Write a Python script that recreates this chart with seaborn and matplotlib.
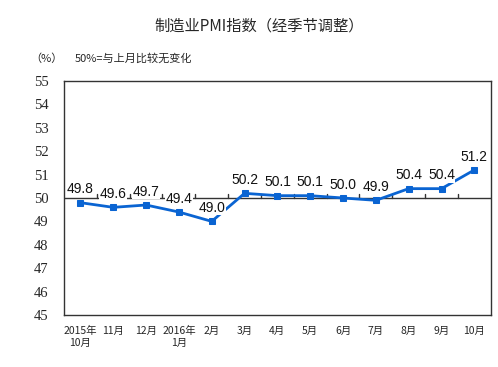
import pandas as pd
import matplotlib
matplotlib.use("Agg")
import matplotlib.pyplot as plt
import seaborn as sns

# PMI values, Oct 2015 - Oct 2016
months = ["2015年\n10月", "11月", "12月", "2016年\n1月", "2月", "3月", "4月",
          "5月", "6月", "7月", "8月", "9月", "10月"]
pmi = [49.8, 49.6, 49.7, 49.4, 49.0, 50.2, 50.1, 50.1, 50.0, 49.9, 50.4, 50.4, 51.2]
yticks = [45, 46, 47, 48, 49, 50, 51, 52, 53, 54, 55]

df = pd.DataFrame({"month": months, "pmi": pmi, "pos": range(len(months))})

sns.set_style("white")
plt.rcParams['font.family'] = ['Noto Sans CJK SC', 'DejaVu Sans']

fig = plt.figure(figsize=(4.98, 3.67), dpi=100)
ax = fig.add_axes([0.1285, 0.142, 0.857, 0.637])

line_color = "#0A64D2"
sns.lineplot(data=df, x="pos", y="pmi", ax=ax, color=line_color, linewidth=2,
             marker="s", markersize=5, markeredgecolor=line_color, zorder=3)

# 50 reference line with small tick marks between months
ax.axhline(50, color="#333333", linewidth=1, zorder=2)
for i in range(len(months) - 1):
    ax.plot([i + 0.5, i + 0.5], [50, 50.15], color="#333333", linewidth=1, zorder=2)

# value labels
for i, v in enumerate(pmi):
    ax.text(i, v + 0.27, f"{v:.1f}", ha="center", va="bottom", fontsize=10,
            family=["Liberation Sans"], color="#111111", zorder=4,
            bbox=dict(facecolor="white", edgecolor="none", pad=0.3))

ax.set_xlim(-0.5, len(months) - 0.5)
ax.set_ylim(45, 55)
ax.set_yticks(yticks)
ax.set_yticklabels([str(t) for t in yticks])
for lab in ax.get_yticklabels():
    lab.set_family(["Liberation Serif"])
    lab.set_fontsize(10.5)
ax.set_xticks(range(len(months)))
ax.set_xticklabels(months, fontsize=7.5, linespacing=1.2)
ax.tick_params(axis="y", direction="in", length=4, width=1, color="#333333", pad=11)
ax.tick_params(axis="x", length=0, pad=8)
ax.set_xlabel("")
ax.set_ylabel("")
for s in ax.spines.values():
    s.set_color("#333333")
    s.set_linewidth(1)

fig.text(0.52, 0.928, "制造业PMI指数（经季节调整）", ha="center", va="center", fontsize=11)
fig.text(0.06, 0.84, "（%）", ha="left", va="center", fontsize=8)
fig.text(0.15, 0.84, "50%=与上月比较无变化", ha="left", va="center", fontsize=8)

fig.savefig("out.png", dpi=100)
